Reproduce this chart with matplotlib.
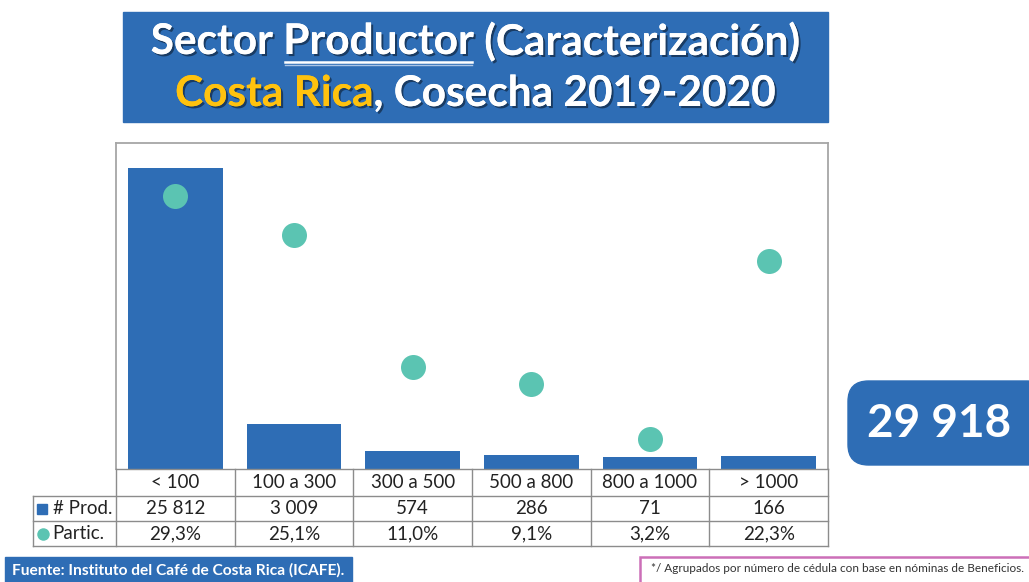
import matplotlib
matplotlib.use("Agg")
import matplotlib.pyplot as plt
import matplotlib.patheffects as pe
from matplotlib.patches import Rectangle, FancyBboxPatch
from matplotlib.lines import Line2D

# data
categories = ["< 100", "100 a 300", "300 a 500", "500 a 800", "800 a 1000", "> 1000"]
productores = [25812, 3009, 574, 286, 71, 166]
participacion = [0.293, 0.251, 0.110, 0.091, 0.032, 0.223]
prod_labels = ["25 812", "3 009", "574", "286", "71", "166"]
partic_labels = ["29,3%", "25,1%", "11,0%", "9,1%", "3,2%", "22,3%"]
total_label = "29 918"

BLUE = "#2E6DB5"
TEAL = "#5BC4B2"
GOLD = "#FFC20E"
GRID = "#8C8C8C"
FONT = "Lato"

W, H = 1029, 582
fig = plt.figure(figsize=(W / 100, H / 100), dpi=100)


def fx(x):
    return x / W


def fy(y):
    return 1 - y / H


def hline(x0, x1, y, **kw):
    fig.add_artist(Line2D([fx(x0), fx(x1)], [fy(y), fy(y)], color=GRID, lw=1, **kw))


def vline(x, y0, y1, **kw):
    fig.add_artist(Line2D([fx(x), fx(x)], [fy(y0), fy(y1)], color=GRID, lw=1, **kw))


# main chart area
left, right, top, bottom = 116, 828, 143, 469
ax = fig.add_axes([fx(left), fy(bottom), fx(right - left), (bottom - top) / H])
ymin = -1000
ax.bar(range(len(categories)), [v - ymin for v in productores], bottom=ymin,
       width=0.8, color=BLUE, zorder=2)
ax.set_xlim(-0.5, len(categories) - 0.5)
ax.set_ylim(ymin, 28000)
ax.set_xticks([])
ax.set_yticks([])
for s in ["top", "left", "right"]:
    ax.spines[s].set_color("#A6A6A6")
    ax.spines[s].set_linewidth(1.3)
ax.spines["bottom"].set_visible(False)

ax2 = ax.twinx()
ax2.plot(range(len(categories)), participacion, "o", ms=18, color=TEAL,
         mec="none", zorder=3)
ax2.set_ylim(0, 0.35)
ax2.set_yticks([])
for s in ax2.spines.values():
    s.set_visible(False)

# data table under the chart
col_w = (right - left) / len(categories)
rows = [469, 496, 521, 546]
tab_left = 33
hline(left, right, rows[0])
for y in rows[1:]:
    hline(tab_left, right, y)
vline(tab_left, rows[1], rows[3])
for i in range(len(categories) + 1):
    vline(left + i * col_w, rows[0], rows[3])

for i, cat in enumerate(categories):
    cx = left + (i + 0.5) * col_w
    for r, txt in enumerate([cat, prod_labels[i], partic_labels[i]]):
        fig.text(fx(cx), fy((rows[r] + rows[r + 1]) / 2), txt, ha="center",
                 va="center", fontsize=13.5, family=FONT, color="#222222")

fig.add_artist(Rectangle((fx(37), fy(514)), fx(10), 10 / H, color=BLUE))
fig.add_artist(Line2D([fx(43)], [fy(533.5)], marker="o", ms=9, color=TEAL, mec="none"))
fig.text(fx(53), fy(508.5), "# Prod.", ha="left", va="center", fontsize=13.5,
         family=FONT, color="#222222")
fig.text(fx(52), fy(533.5), "Partic.", ha="left", va="center", fontsize=13.5,
         family=FONT, color="#222222")

# title box
fig.add_artist(Rectangle((fx(123), fy(122)), fx(828 - 123), 110 / H, color=BLUE))
shadow = [pe.withSimplePatchShadow(offset=(1.5, -1.5), shadow_rgbFace="black", alpha=0.45),
          pe.Normal()]
renderer = fig.canvas.get_renderer()


def title_line(parts, yc, size):
    texts = []
    for txt, col in parts:
        t = fig.text(0, fy(yc), txt, color=col, fontsize=size, family=FONT,
                     weight="bold", va="center", ha="left", path_effects=shadow)
        texts.append(t)
    widths = [t.get_window_extent(renderer).width for t in texts]
    x = (123 + 828) / 2 - sum(widths) / 2
    out = []
    for t, w in zip(texts, widths):
        t.set_x(fx(x))
        out.append((x, w))
        x += w
    return out


pos = title_line([("Sector ", "white"), ("Productor", "white"),
                  (" (Caracterización)", "white")], 42, 30.5)
ux, uw = pos[1]
fig.add_artist(Line2D([fx(ux + 2), fx(ux + uw - 2)], [fy(62), fy(62)], color="white", lw=1.8))
fig.add_artist(Line2D([fx(ux + 2), fx(ux + uw - 2)], [fy(65), fy(65)], color="#A9C4E6", lw=1.0))
title_line([("Costa Rica", GOLD), (", Cosecha 2019-2020", "white")], 94, 30.5)

# total box
fig.add_artist(FancyBboxPatch((fx(848), fy(465)), fx(200), 84 / H,
                              boxstyle="round,pad=0,rounding_size=0.02",
                              color=BLUE, mutation_aspect=W / H))
fig.text(fx(939), fy(424), total_label, ha="center", va="center", fontsize=33,
         family=FONT, weight="bold", color="white")

# footers
fig.add_artist(Rectangle((fx(5), fy(590)), fx(347), 33 / H, color=BLUE))
fig.text(fx(12), fy(570), "Fuente: Instituto del Café de Costa Rica (ICAFE).",
         ha="left", va="center", fontsize=11.2, family=FONT, weight="bold", color="white")
fig.add_artist(Rectangle((fx(640), fy(590)), fx(400), 33 / H, facecolor="white",
                         edgecolor="#CC6FB8", lw=1.8))
fig.text(fx(651), fy(569), "*/ Agrupados por número de cédula con base en nóminas de Beneficios.",
         ha="left", va="center", fontsize=8.5, family=FONT, color="#333333")

fig.savefig("out.png", dpi=100)
